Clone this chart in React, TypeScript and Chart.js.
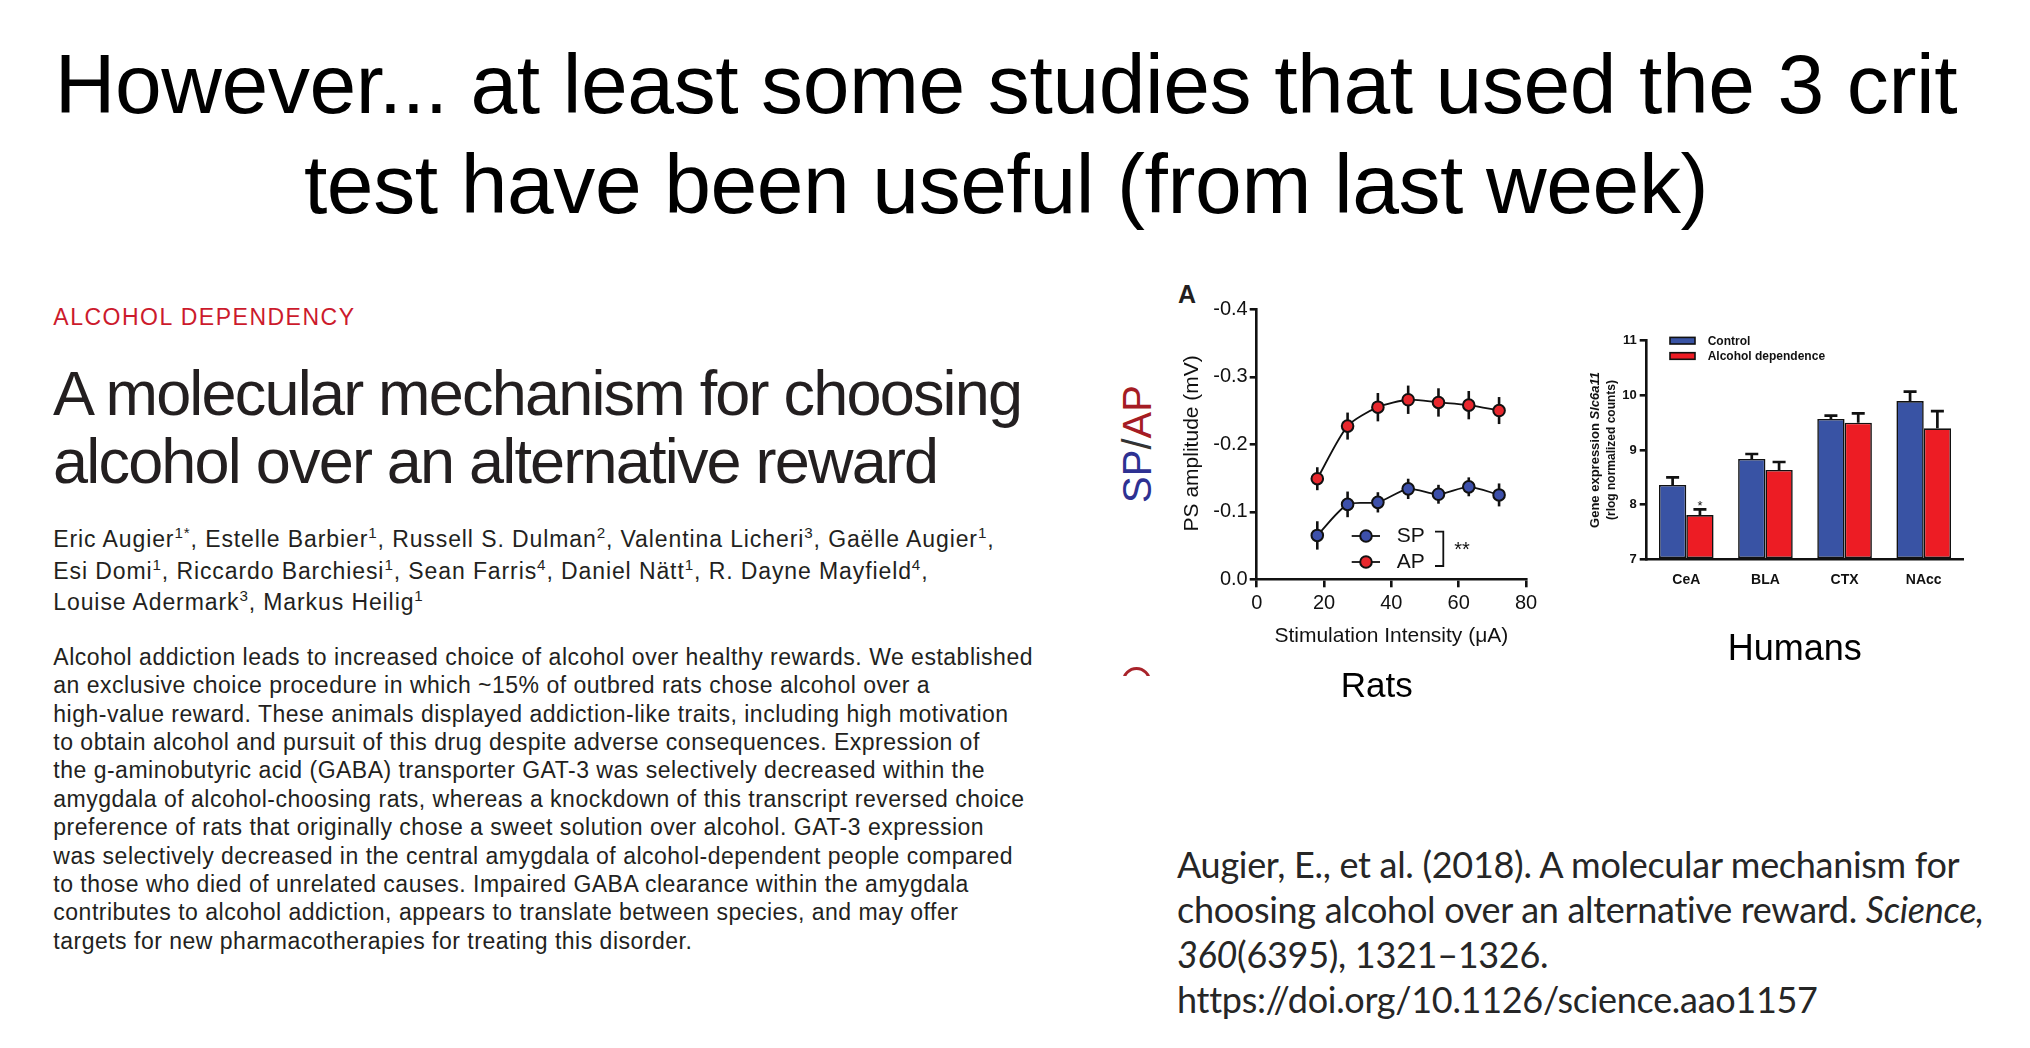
import React, { useEffect, useRef } from "react";
import { Chart, registerables } from "chart.js";

Chart.register(...registerables);

// ---------------- Data: Rats (panel A) ----------------
const stimIntensity = [18, 27, 36, 45, 54, 63, 72];
const spAmplitude = [-0.065, -0.111, -0.114, -0.134, -0.126, -0.137, -0.125];
const spSem = [0.021, 0.019, 0.015, 0.015, 0.014, 0.014, 0.017];
const apAmplitude = [-0.149, -0.227, -0.255, -0.266, -0.262, -0.258, -0.25];
const apSem = [0.017, 0.02, 0.021, 0.021, 0.021, 0.021, 0.02];
const ratsSeriesNames = ["SP", "AP"];
const ratsSignificance = "**";

// ---------------- Data: Humans ----------------
const regions = ["CeA", "BLA", "CTX", "NAcc"];
const controlExpr = [8.36, 8.835, 9.567, 9.896];
const controlSem = [0.14, 0.092, 0.061, 0.171];
const dependenceExpr = [7.81, 8.634, 9.5, 9.396];
const dependenceSem = [0.105, 0.146, 0.17, 0.317];
const dependenceSig = ["*", "", "", ""];
const humansSeriesNames = ["Control", "Alcohol dependence"];

const SANS = "'Liberation Sans', Arial, Helvetica, sans-serif";
const INK = "#111111";
const SP_BLUE = "#3d50aa";
const AP_RED = "#e8282e";
const CTRL_BLUE = "#3953a4";
const DEP_RED = "#ed1c24";

function baselineTop(baseline: number, size: number, lineHeight: number, asc = 0.905, desc = 0.212) {
  return baseline - ((lineHeight - (asc + desc) * size) / 2 + asc * size);
}

function RatsChart() {
  const ref = useRef<HTMLCanvasElement>(null);
  useEffect(() => {
    const canvas = ref.current!;
    const decor = {
      id: "ratsDecor",
      beforeDatasetsDraw(chart: any) {
        const { ctx, scales } = chart;
        const x = scales.x;
        const y = scales.y;
        ctx.save();
        ctx.strokeStyle = INK;
        ctx.lineWidth = 2.6;
        const series = [
          [spAmplitude, spSem],
          [apAmplitude, apSem],
        ];
        series.forEach(([m, e]) => {
          stimIntensity.forEach((xv, i) => {
            const px = x.getPixelForValue(xv);
            ctx.beginPath();
            ctx.moveTo(px, y.getPixelForValue(m[i] - e[i]));
            ctx.lineTo(px, y.getPixelForValue(m[i] + e[i]));
            ctx.stroke();
          });
        });
        ctx.restore();
      },
      afterDraw(chart: any) {
        const { ctx, chartArea: ca } = chart;
        ctx.save();
        ctx.fillStyle = INK;
        ctx.font = `21px ${SANS}`;
        ctx.textAlign = "center";
        ctx.textBaseline = "alphabetic";
        ctx.fillText("Stimulation Intensity (\u03bcA)", (ca.left + ca.right) / 2, ca.bottom + 62.4);
        ctx.save();
        ctx.translate(ca.left - 64.7, (ca.top + ca.bottom) / 2 - 1);
        ctx.rotate(-Math.PI / 2);
        ctx.textBaseline = "middle";
        ctx.fillText("PS amplitude (mV)", 0, 0);
        ctx.restore();
        // legend
        const colors = [SP_BLUE, AP_RED];
        const rows = [ca.bottom - 43.3, ca.bottom - 17.3];
        ratsSeriesNames.forEach((name, i) => {
          const yy = rows[i];
          ctx.strokeStyle = INK;
          ctx.lineWidth = 1.8;
          ctx.beginPath();
          ctx.moveTo(ca.left + 95, yy);
          ctx.lineTo(ca.left + 123.3, yy);
          ctx.stroke();
          ctx.beginPath();
          ctx.arc(ca.left + 109.3, yy, 5.8, 0, Math.PI * 2);
          ctx.fillStyle = colors[i];
          ctx.fill();
          ctx.lineWidth = 2;
          ctx.stroke();
          ctx.fillStyle = INK;
          ctx.font = `21px ${SANS}`;
          ctx.textAlign = "left";
          ctx.textBaseline = "middle";
          ctx.fillText(name, ca.left + 140, yy);
        });
        // bracket
        ctx.strokeStyle = INK;
        ctx.lineWidth = 1.8;
        ctx.beginPath();
        ctx.moveTo(ca.left + 178.3, ca.bottom - 47.6);
        ctx.lineTo(ca.left + 186.6, ca.bottom - 47.6);
        ctx.lineTo(ca.left + 186.6, ca.bottom - 13.3);
        ctx.lineTo(ca.left + 178.3, ca.bottom - 13.3);
        ctx.stroke();
        ctx.fillStyle = INK;
        ctx.font = `20px ${SANS}`;
        ctx.textAlign = "left";
        ctx.textBaseline = "middle";
        ctx.fillText(ratsSignificance, ca.left + 197.5, ca.bottom - 28.8);
        ctx.restore();
      },
    };
    const pointStyle = (fill: string) => ({
      borderColor: INK,
      borderWidth: 1.8,
      pointBackgroundColor: fill,
      pointBorderColor: INK,
      pointBorderWidth: 2,
      pointRadius: 5.8,
      pointHoverRadius: 5.8,
      tension: 0.25,
      fill: false,
    });
    const chart = new Chart(canvas, {
      type: "line",
      data: {
        datasets: [
          { label: ratsSeriesNames[0], data: stimIntensity.map((x, i) => ({ x, y: spAmplitude[i] })), backgroundColor: SP_BLUE, ...pointStyle(SP_BLUE) },
          { label: ratsSeriesNames[1], data: stimIntensity.map((x, i) => ({ x, y: apAmplitude[i] })), backgroundColor: AP_RED, ...pointStyle(AP_RED) },
        ],
      },
      options: {
        responsive: false,
        animation: false,
        devicePixelRatio: 1,
        layout: { padding: { top: 29.3, right: 24, bottom: 0, left: 0 } },
        plugins: { legend: { display: false }, tooltip: { enabled: false } },
        events: [],
        scales: {
          x: {
            type: "linear",
            min: 0,
            max: 80,
            ticks: { stepSize: 20, color: INK, font: { size: 20, family: SANS }, padding: 4, maxRotation: 0 },
            border: { display: true, color: INK, width: 2.6 },
            grid: { display: true, drawOnChartArea: false, drawTicks: true, tickLength: 8, color: INK, lineWidth: 2.6 },
            afterFit: (s: any) => {
              s.height = 90.7;
            },
          },
          y: {
            type: "linear",
            min: -0.4,
            max: 0,
            reverse: true,
            ticks: { stepSize: 0.1, color: INK, font: { size: 20, family: SANS }, padding: 2, callback: (v: any) => Number(v).toFixed(1) },
            border: { display: true, color: INK, width: 2.6 },
            grid: { display: true, drawOnChartArea: false, drawTicks: true, tickLength: 7, color: INK, lineWidth: 2.6 },
            afterFit: (s: any) => {
              s.width = 106.7;
            },
          },
        },
      } as any,
      plugins: [decor],
    });
    return () => chart.destroy();
  }, []);
  return <canvas ref={ref} width={400} height={390} style={{ position: "absolute", left: 1150, top: 280, width: 400, height: 390 }} />;
}

function HumansChart() {
  const ref = useRef<HTMLCanvasElement>(null);
  useEffect(() => {
    const canvas = ref.current!;
    const decor = {
      id: "humansDecor",
      afterDatasetsDraw(chart: any) {
        const { ctx, scales } = chart;
        const y = scales.y;
        const sems = [controlSem, dependenceSem];
        const means = [controlExpr, dependenceExpr];
        ctx.save();
        ctx.strokeStyle = INK;
        ctx.lineWidth = 2.7;
        [0, 1].forEach((d) => {
          const meta = chart.getDatasetMeta(d);
          meta.data.forEach((bar: any, i: number) => {
            const top = y.getPixelForValue(means[d][i]);
            const end = y.getPixelForValue(means[d][i] + sems[d][i]);
            ctx.beginPath();
            ctx.moveTo(bar.x, top);
            ctx.lineTo(bar.x, end);
            ctx.moveTo(bar.x - 6.5, end);
            ctx.lineTo(bar.x + 6.5, end);
            ctx.stroke();
            if (d === 1 && dependenceSig[i]) {
              ctx.fillStyle = INK;
              ctx.font = `13px ${SANS}`;
              ctx.textAlign = "center";
              ctx.textBaseline = "alphabetic";
              ctx.fillText(dependenceSig[i], bar.x, end + 0.5);
            }
          });
        });
        ctx.restore();
      },
      afterDraw(chart: any) {
        const { ctx, chartArea: ca } = chart;
        ctx.save();
        const fills = [CTRL_BLUE, DEP_RED];
        humansSeriesNames.forEach((name, i) => {
          const yy = ca.top + i * 15.3;
          ctx.fillStyle = fills[i];
          ctx.fillRect(ca.left + 23.3, yy - 3.3, 25, 6.6);
          ctx.strokeStyle = INK;
          ctx.lineWidth = 1.6;
          ctx.strokeRect(ca.left + 23.3, yy - 3.3, 25, 6.6);
          ctx.fillStyle = INK;
          ctx.font = `bold 12px ${SANS}`;
          ctx.textAlign = "left";
          ctx.textBaseline = "middle";
          ctx.fillText(name, ca.left + 61, yy + 0.5);
        });
        const cy = (ca.top + ca.bottom) / 2;
        ctx.save();
        ctx.translate(ca.left - 51.7, cy);
        ctx.rotate(-Math.PI / 2);
        ctx.textBaseline = "middle";
        ctx.textAlign = "left";
        ctx.fillStyle = INK;
        const p1 = "Gene expression ";
        const p2 = "Slc6a11";
        ctx.font = `bold 13px ${SANS}`;
        const w1 = ctx.measureText(p1).width;
        ctx.font = `italic bold 13px ${SANS}`;
        const w2 = ctx.measureText(p2).width;
        const start = -(w1 + w2) / 2;
        ctx.font = `bold 13px ${SANS}`;
        ctx.fillText(p1, start, 0);
        ctx.font = `italic bold 13px ${SANS}`;
        ctx.fillText(p2, start + w1, 0);
        ctx.restore();
        ctx.save();
        ctx.translate(ca.left - 35, cy);
        ctx.rotate(-Math.PI / 2);
        ctx.textBaseline = "middle";
        ctx.textAlign = "center";
        ctx.fillStyle = INK;
        ctx.font = `bold 12px ${SANS}`;
        ctx.fillText("(rlog normalized counts)", 0, 0);
        ctx.restore();
        ctx.restore();
      },
    };
    const chart = new Chart(canvas, {
      type: "bar",
      data: {
        labels: regions,
        datasets: [
          { label: humansSeriesNames[0], data: controlExpr, backgroundColor: CTRL_BLUE, borderColor: INK, borderWidth: 1.6, borderSkipped: false, base: 7 },
          { label: humansSeriesNames[1], data: dependenceExpr, backgroundColor: DEP_RED, borderColor: INK, borderWidth: 1.6, borderSkipped: false, base: 7 },
        ],
      },
      options: {
        responsive: false,
        animation: false,
        devicePixelRatio: 1,
        events: [],
        layout: { padding: { top: 20.7, right: 26.7, bottom: 0, left: 0 } },
        datasets: { bar: { categoryPercentage: 0.69, barPercentage: 1 } },
        plugins: { legend: { display: false }, tooltip: { enabled: false } },
        scales: {
          x: {
            grid: { display: false },
            border: { display: true, color: INK, width: 2.6 },
            ticks: { color: INK, font: { size: 14, weight: "bold", family: SANS }, padding: 4 },
            afterFit: (s: any) => {
              s.height = 70.7;
            },
          },
          y: {
            min: 7,
            max: 11,
            ticks: { stepSize: 1, color: INK, font: { size: 13, weight: "bold", family: SANS }, padding: 3 },
            border: { display: true, color: INK, width: 2.6 },
            grid: { display: true, drawOnChartArea: false, drawTicks: true, tickLength: 7, color: INK, lineWidth: 2.6 },
            afterFit: (s: any) => {
              s.width = 76.7;
            },
          },
        },
      } as any,
      plugins: [decor],
    });
    return () => chart.destroy();
  }, []);
  return <canvas ref={ref} width={420} height={310} style={{ position: "absolute", left: 1570, top: 320, width: 420, height: 310 }} />;
}

const abstractLines = [
  "Alcohol addiction leads to increased choice of alcohol over healthy rewards. We established",
  "an exclusive choice procedure in which ~15% of outbred rats chose alcohol over a",
  "high-value reward. These animals displayed addiction-like traits, including high motivation",
  "to obtain alcohol and pursuit of this drug despite adverse consequences. Expression of",
  "the g-aminobutyric acid (GABA) transporter GAT-3 was selectively decreased within the",
  "amygdala of alcohol-choosing rats, whereas a knockdown of this transcript reversed choice",
  "preference of rats that originally chose a sweet solution over alcohol. GAT-3 expression",
  "was selectively decreased in the central amygdala of alcohol-dependent people compared",
  "to those who died of unrelated causes. Impaired GABA clearance within the amygdala",
  "contributes to alcohol addiction, appears to translate between species, and may offer",
  "targets for new pharmacotherapies for treating this disorder.",
];

const Sup = ({ children }: { children: React.ReactNode }) => (
  <span style={{ fontSize: "0.66em", position: "relative", top: "-0.6em" }}>{children}</span>
);

export default function App() {
  useEffect(() => {
    document.body.style.margin = "0";
  }, []);
  const abs: React.CSSProperties = { position: "absolute", whiteSpace: "nowrap" };
  return (
    <div style={{ position: "absolute", left: 0, top: 0, width: 2030, height: 1048, background: "#fff", overflow: "hidden", fontFamily: SANS }}>
      <div style={{ ...abs, left: -9, width: 2030, top: baselineTop(112.7, 84, 100), fontSize: 84, lineHeight: "100px", textAlign: "center", letterSpacing: -0.4, color: "#000" }}>
        However... at least some studies that used the 3 crit
        <br />
        test have been useful (from last week)
      </div>

      <div style={{ ...abs, left: 53.3, top: baselineTop(325, 23, 23), fontSize: 23, lineHeight: "23px", letterSpacing: 1.5, color: "#cc1a2c" }}>
        ALCOHOL DEPENDENCY
      </div>

      <div style={{ ...abs, left: 53, top: baselineTop(415, 63, 68.3), fontSize: 63, lineHeight: "68.3px", letterSpacing: -1.8, color: "#231f20" }}>
        A molecular mechanism for choosing
        <br />
        alcohol over an alternative reward
      </div>

      <div style={{ ...abs, left: 53.3, top: baselineTop(548, 23, 29.3), fontSize: 23, lineHeight: "29.3px", letterSpacing: 0.9, color: "#231f20" }}>
        Eric Augier<Sup>1*</Sup>, Estelle Barbier<Sup>1</Sup>, Russell S. Dulman<Sup>2</Sup>, Valentina Licheri<Sup>3</Sup>, Gaëlle Augier<Sup>1</Sup>,
        <br />
        Esi Domi<Sup>1</Sup>, Riccardo Barchiesi<Sup>1</Sup>, Sean Farris<Sup>4</Sup>, Daniel Nätt<Sup>1</Sup>, R. Dayne Mayfield<Sup>4</Sup>,
        <br />
        Louise Adermark<Sup>3</Sup>, Markus Heilig<Sup>1</Sup>
      </div>

      <div style={{ ...abs, left: 53.3, top: baselineTop(665, 23, 28.4), fontSize: 23, lineHeight: "28.4px", letterSpacing: 0.5, color: "#231f20" }}>
        {abstractLines.map((l, i) => (
          <div key={i}>{l}</div>
        ))}
      </div>

      <div style={{ ...abs, left: 1178, top: baselineTop(303, 25, 25), fontSize: 25, lineHeight: "25px", fontWeight: "bold", color: "#231f20" }}>A</div>

      <div style={{ position: "absolute", left: 1136.5, top: 444, width: 0, height: 0 }}>
        <span style={{ position: "absolute", left: 0, top: 0, whiteSpace: "nowrap", fontSize: 40, lineHeight: "40px", transform: "translate(-50%, -50%) rotate(-90deg)" }}>
          <span style={{ color: "#2e3192" }}>SP</span>
          <span style={{ color: "#333333" }}>/</span>
          <span style={{ color: "#a51c24" }}>AP</span>
        </span>
      </div>

      <div style={{ position: "absolute", left: 1122, top: 667, width: 31, height: 9, overflow: "hidden" }}>
        <div style={{ position: "absolute", left: 0, top: 0, width: 29, height: 29, boxSizing: "border-box", border: "3px solid #a8232a", borderRadius: "50%" }} />
      </div>

      <RatsChart />
      <HumansChart />

      <div style={{ ...abs, left: 1276.7, width: 200, textAlign: "center", top: baselineTop(696.7, 35, 35), fontSize: 35, lineHeight: "35px", color: "#000" }}>Rats</div>
      <div style={{ ...abs, left: 1694.7, width: 200, textAlign: "center", top: baselineTop(660, 36, 36), fontSize: 36, lineHeight: "36px", color: "#000" }}>Humans</div>

      <div style={{ ...abs, left: 1177, top: baselineTop(878, 36, 45, 0.987, 0.213), fontSize: 36, lineHeight: "45px", fontFamily: "Lato, 'Noto Sans', sans-serif", letterSpacing: -0.3, color: "#262626" }}>
        Augier, E., et al. (2018). A molecular mechanism for
        <br />
        choosing alcohol over an alternative reward. <i>Science,</i>
        <br />
        <i>360</i>(6395), 1321–1326.
        <br />
        https://doi.org/10.1126/science.aao1157
      </div>
    </div>
  );
}
